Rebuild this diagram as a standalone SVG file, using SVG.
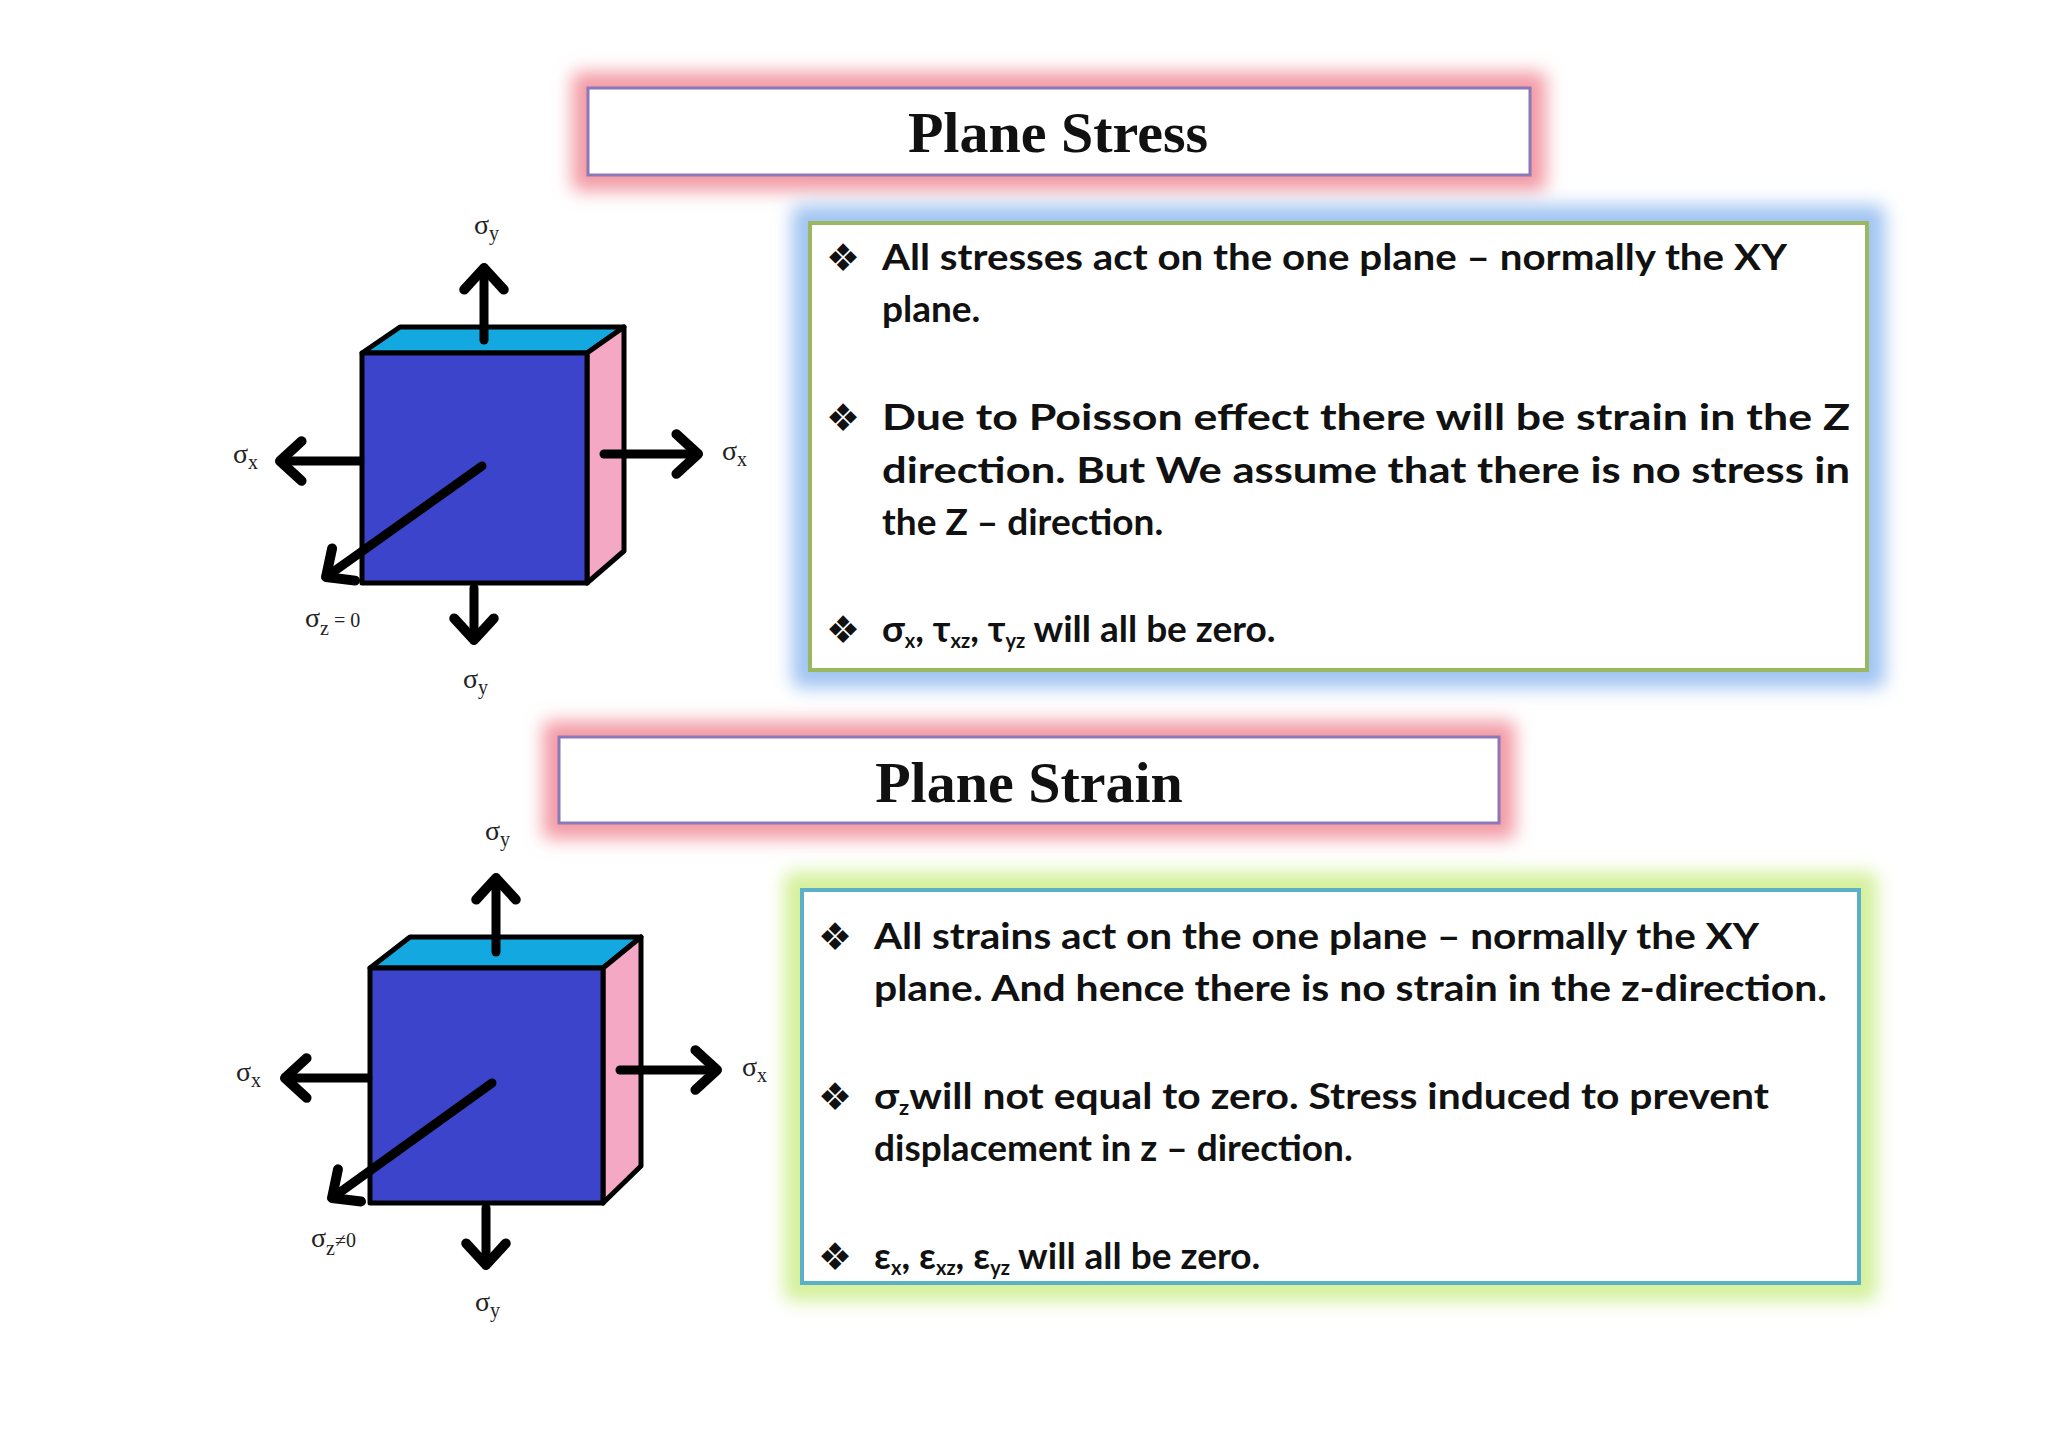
<svg xmlns="http://www.w3.org/2000/svg" width="2048" height="1447" viewBox="0 0 2048 1447">
<defs>
<filter id="glow" x="-10%" y="-30%" width="120%" height="160%"><feGaussianBlur stdDeviation="9"/></filter>
<marker id="ah" markerUnits="strokeWidth" markerWidth="10" markerHeight="10" orient="auto" overflow="visible">
<path d="M-2.4,-2.2 L0,0 L-2.4,2.2" fill="none" stroke="#000" stroke-width="1.1" stroke-linecap="round" stroke-linejoin="round"/>
</marker>
<style>
.title{font-family:"Liberation Serif",serif;font-weight:bold;font-size:58px;text-anchor:middle;fill:#111}
.body{font-family:Lato,"Open Sans",sans-serif;font-weight:bold;font-size:37px;fill:#111}
.bul{font-family:"DejaVu Sans",sans-serif;font-size:38px;fill:#111}
.lab{font-family:"Liberation Serif",serif;font-size:28px;fill:#222}
.sub{font-size:20px}
.arr{stroke:#000;stroke-width:9;stroke-linecap:round;fill:none;marker-end:url(#ah)}
.face{stroke:#000;stroke-width:5;stroke-linejoin:round}
</style>
</defs>
<rect width="2048" height="1447" fill="#fff"/>

<g id="title-stress">
<rect x="572" y="72" width="974" height="119" rx="6" fill="#f39aa4" filter="url(#glow)"/>
<rect x="588" y="88" width="942" height="87" fill="#fff" stroke="#8a78b8" stroke-width="3"/>
<text class="title" x="1058" y="152">Plane Stress</text>
</g>

<g id="box-stress">
<rect x="792" y="205" width="1093" height="483" rx="8" fill="#a0c4f2" filter="url(#glow)"/>
<rect x="810" y="223" width="1057" height="447" fill="#fff" stroke="#9ab860" stroke-width="4"/>
<text class="bul" x="826" y="271">❖</text>
<text class="body" x="882" y="270" textLength="905" lengthAdjust="spacingAndGlyphs">All stresses act on the one plane – normally the XY</text>
<text class="body" x="882" y="322">plane.</text>
<text class="bul" x="826" y="431">❖</text>
<text class="body" x="882" y="430" textLength="968" lengthAdjust="spacingAndGlyphs">Due to Poisson effect there will be strain in the Z</text>
<text class="body" x="882" y="483" textLength="968" lengthAdjust="spacingAndGlyphs">direction. But We assume that there is no stress in</text>
<text class="body" x="882" y="535">the Z – direction.</text>
<text class="bul" x="826" y="643">❖</text>
<text class="body" x="882" y="642">σ<tspan class="sub" dy="6">x</tspan><tspan dy="-6">, τ</tspan><tspan class="sub" dy="6">xz</tspan><tspan dy="-6">, τ</tspan><tspan class="sub" dy="6">yz</tspan><tspan dy="-6"> will all be zero.</tspan></text>
</g>

<g id="cube-stress">
<polygon class="face" points="362,353 400,327 624,327 587,353" fill="#14a8e0"/>
<polygon class="face" points="587,353 624,327 624,551 587,583" fill="#f4a8c4"/>
<rect class="face" x="362" y="353" width="225" height="230" fill="#3c44cc"/>
<line class="arr" x1="484" y1="340" x2="484" y2="268"/>
<line class="arr" x1="360" y1="461" x2="280" y2="461"/>
<line class="arr" x1="604" y1="454" x2="698" y2="454"/>
<line class="arr" x1="474" y1="588" x2="474" y2="640"/>
<line class="arr" x1="482" y1="466" x2="326" y2="577"/>
<text class="lab" x="474" y="234">σ<tspan class="sub" dy="6">y</tspan></text>
<text class="lab" x="233" y="463">σ<tspan class="sub" dy="6">x</tspan></text>
<text class="lab" x="722" y="460">σ<tspan class="sub" dy="6">x</tspan></text>
<text class="lab" x="305" y="627">σ<tspan class="sub" dy="8">z</tspan><tspan class="sub" dy="-8"> = 0</tspan></text>
<text class="lab" x="463" y="688">σ<tspan class="sub" dy="6">y</tspan></text>
</g>

<g id="title-strain">
<rect x="543" y="721" width="972" height="118" rx="6" fill="#f39aa4" filter="url(#glow)"/>
<rect x="559" y="737" width="940" height="86" fill="#fff" stroke="#8a78b8" stroke-width="3"/>
<text class="title" x="1029" y="802">Plane Strain</text>
</g>

<g id="box-strain">
<rect x="784" y="872" width="1093" height="429" rx="8" fill="#d4f09a" filter="url(#glow)"/>
<rect x="802" y="890" width="1057" height="393" fill="#fff" stroke="#5ab0c8" stroke-width="4"/>
<text class="bul" x="818" y="950">❖</text>
<text class="body" x="874" y="949" textLength="885" lengthAdjust="spacingAndGlyphs">All strains act on the one plane – normally the XY</text>
<text class="body" x="874" y="1001" textLength="953" lengthAdjust="spacingAndGlyphs">plane. And hence there is no strain in the z-direction.</text>
<text class="bul" x="818" y="1110">❖</text>
<text class="body" x="874" y="1109" textLength="895" lengthAdjust="spacingAndGlyphs">σ<tspan class="sub" dy="6">z</tspan><tspan dy="-6">will not equal to zero. Stress induced to prevent</tspan></text>
<text class="body" x="874" y="1161">displacement in z – direction.</text>
<text class="bul" x="818" y="1270">❖</text>
<text class="body" x="874" y="1269">ε<tspan class="sub" dy="6">x</tspan><tspan dy="-6">, ε</tspan><tspan class="sub" dy="6">xz</tspan><tspan dy="-6">, ε</tspan><tspan class="sub" dy="6">yz</tspan><tspan dy="-6"> will all be zero.</tspan></text>
</g>

<g id="cube-strain">
<polygon class="face" points="370,968 410,937 641,937 603,968" fill="#14a8e0"/>
<polygon class="face" points="603,968 641,937 641,1166 603,1203" fill="#f4a8c4"/>
<rect class="face" x="370" y="968" width="233" height="235" fill="#3c44cc"/>
<line class="arr" x1="496" y1="952" x2="496" y2="878"/>
<line class="arr" x1="368" y1="1078" x2="285" y2="1078"/>
<line class="arr" x1="620" y1="1070" x2="717" y2="1070"/>
<line class="arr" x1="486" y1="1208" x2="486" y2="1265"/>
<line class="arr" x1="492" y1="1083" x2="332" y2="1198"/>
<text class="lab" x="485" y="840">σ<tspan class="sub" dy="6">y</tspan></text>
<text class="lab" x="236" y="1081">σ<tspan class="sub" dy="6">x</tspan></text>
<text class="lab" x="742" y="1076">σ<tspan class="sub" dy="6">x</tspan></text>
<text class="lab" x="311" y="1247">σ<tspan class="sub" dy="8">z</tspan><tspan class="sub" dy="-8">≠0</tspan></text>
<text class="lab" x="475" y="1311">σ<tspan class="sub" dy="6">y</tspan></text>
</g>
</svg>
